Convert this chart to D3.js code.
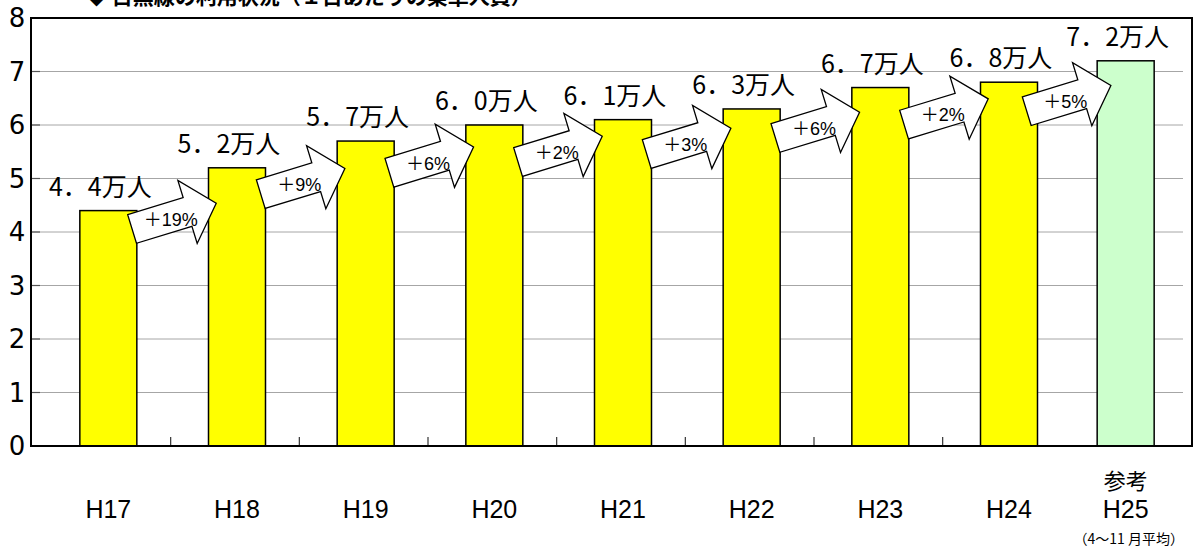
<!DOCTYPE html>
<html lang="ja">
<head>
<meta charset="utf-8">
<script src="https://cdn.jsdelivr.net/npm/d3@7"></script>
<style>
  body { margin: 0; background: #fff; }
  svg { display: block; }
  text { font-family: "Noto Sans CJK JP", "Noto Sans", sans-serif; fill: #000; }
</style>
</head>
<body>
<svg width="1194" height="555"></svg>
<script>
const titleText = "◆ 目黒線の利用状況（１日あたりの乗車人員）";
const years = ["H17", "H18", "H19", "H20", "H21", "H22", "H23", "H24", "H25"];
const riders = [4.4, 5.2, 5.7, 6.0, 6.1, 6.3, 6.7, 6.8, 7.2];
const valueLabels = ["4．4万人", "5．2万人", "5．7万人", "6．0万人", "6．1万人",
  "6．3万人", "6．7万人", "6．8万人", "7．2万人"];
const growthLabels = ["＋19%", "＋9%", "＋6%", "＋2%", "＋3%", "＋6%", "＋2%", "＋5%"];
const yTicks = [0, 1, 2, 3, 4, 5, 6, 7, 8];
const refYear = "H25";
const refTop = "参考";
const refNote = "（4～11 月平均）";

document.addEventListener("DOMContentLoaded", () => {
  drawChart();
});

const drawChart = () => {
  const svg = d3.select("svg");

  const plot = { left: 31, right: 1192, top: 18, bottom: 446 };
  const refShift = -12; // the reference bar sits a bit left of its slot

  const yScale = d3.scaleLinear().domain([0, 8]).range([plot.bottom, plot.top]);

  const xScale = d3
    .scaleBand()
    .domain(years)
    .range([44, 1202])
    .paddingInner(0.557)
    .paddingOuter(0.2785);

  const barX = (d) => xScale(d) + (d === refYear ? refShift : 0);
  const barMid = (d) => barX(d) + xScale.bandwidth() / 2;

  // title (cut off by the top edge)
  svg.append("text")
    .attr("x", 86)
    .attr("y", 4)
    .text(titleText)
    .style("font-size", "21px")
    .style("font-weight", "bold");

  // gridlines
  svg.append("g")
    .selectAll("line")
    .data(yTicks.filter((t) => t > 0 && t < 8))
    .enter()
    .append("line")
    .attr("x1", plot.left)
    .attr("x2", 1183)
    .attr("y1", (d) => yScale(d))
    .attr("y2", (d) => yScale(d))
    .attr("stroke", "#a6a6a6")
    .attr("stroke-width", 1);

  // small ticks inside the y axis
  svg.append("g")
    .selectAll("line")
    .data(yTicks)
    .enter()
    .append("line")
    .attr("x1", plot.left)
    .attr("x2", plot.left + 9)
    .attr("y1", (d) => yScale(d))
    .attr("y2", (d) => yScale(d))
    .attr("stroke", "#555")
    .attr("stroke-width", 1.2);

  // ticks on the x axis between the yearly bars
  const boundaries = years.slice(1, years.length - 1);
  svg.append("g")
    .selectAll("line")
    .data(boundaries)
    .enter()
    .append("line")
    .attr("x1", (d) => xScale(d) - xScale.step() * xScale.paddingInner() / 2 - 2)
    .attr("x2", (d) => xScale(d) - xScale.step() * xScale.paddingInner() / 2 - 2)
    .attr("y1", plot.bottom)
    .attr("y2", plot.bottom - 9)
    .attr("stroke", "#333")
    .attr("stroke-width", 1.2);

  // y labels
  svg.append("g")
    .selectAll("text")
    .data(yTicks)
    .enter()
    .append("text")
    .attr("x", 17)
    .attr("y", (d) => yScale(d))
    .attr("dy", "0.36em")
    .attr("text-anchor", "middle")
    .style("font-family", "'DejaVu Sans', sans-serif")
    .style("font-size", "26px")
    .text((d) => d);

  // bars
  svg.append("g")
    .selectAll("rect")
    .data(years)
    .enter()
    .append("rect")
    .attr("x", (d) => barX(d))
    .attr("width", xScale.bandwidth())
    .attr("y", (d, i) => yScale(riders[i]))
    .attr("height", (d, i) => plot.bottom - yScale(riders[i]))
    .attr("fill", (d) => (d === refYear ? "#ccffcc" : "#ffff00"))
    .attr("stroke", "#000")
    .attr("stroke-width", 1.5);

  // frame
  svg.append("rect")
    .attr("x", plot.left)
    .attr("y", plot.top)
    .attr("width", plot.right - plot.left)
    .attr("height", plot.bottom - plot.top)
    .attr("fill", "none")
    .attr("stroke", "#000")
    .attr("stroke-width", 2);

  // growth arrows
  const arrowPath = "M-43.5,-15 L14.5,-15 L14.5,-33 L44.5,0 L14.5,33 L14.5,15 L-43.5,15 Z";
  const arrows = svg.append("g")
    .selectAll("g")
    .data(growthLabels)
    .enter()
    .append("g")
    .attr("transform", (d, i) => {
      const x0 = barX(years[i]) + xScale.bandwidth();
      const x1 = barX(years[i + 1]);
      const cx = (x0 + x1) / 2 + 1;
      const cy = (yScale(riders[i]) + yScale(riders[i + 1])) / 2 + 27;
      return `translate(${cx}, ${cy})`;
    });

  arrows.append("path")
    .attr("d", arrowPath)
    .attr("transform", "rotate(-17)")
    .attr("fill", "#fff")
    .attr("stroke", "#000")
    .attr("stroke-width", 1.3)
    .attr("stroke-linejoin", "miter");

  arrows.append("text")
    .attr("x", -3)
    .attr("y", 3)
    .attr("dy", "0.36em")
    .attr("text-anchor", "middle")
    .style("font-family", "'Liberation Sans', 'Noto Sans CJK JP', sans-serif")
    .style("font-size", "18px")
    .text((d) => d);

  // value labels
  svg.append("g")
    .selectAll("text")
    .data(valueLabels)
    .enter()
    .append("text")
    .attr("x", (d, i) => barMid(years[i]) - 8)
    .attr("y", (d, i) => yScale(riders[i]) - 15)
    .attr("text-anchor", "middle")
    .style("font-size", "25px")
    .text((d) => d);

  // category labels
  svg.append("g")
    .selectAll("text")
    .data(years)
    .enter()
    .append("text")
    .attr("x", (d) => barMid(d))
    .attr("y", 518)
    .attr("text-anchor", "middle")
    .style("font-family", "'Liberation Sans', sans-serif")
    .style("font-size", "25px")
    .text((d) => d);

  svg.append("text")
    .attr("x", barMid(refYear))
    .attr("y", 489)
    .attr("text-anchor", "middle")
    .style("font-size", "22px")
    .text(refTop);

  svg.append("text")
    .attr("x", barMid(refYear) + 3)
    .attr("y", 544)
    .attr("text-anchor", "middle")
    .style("font-size", "14px")
    .text(refNote);
};
</script>
</body>
</html>
